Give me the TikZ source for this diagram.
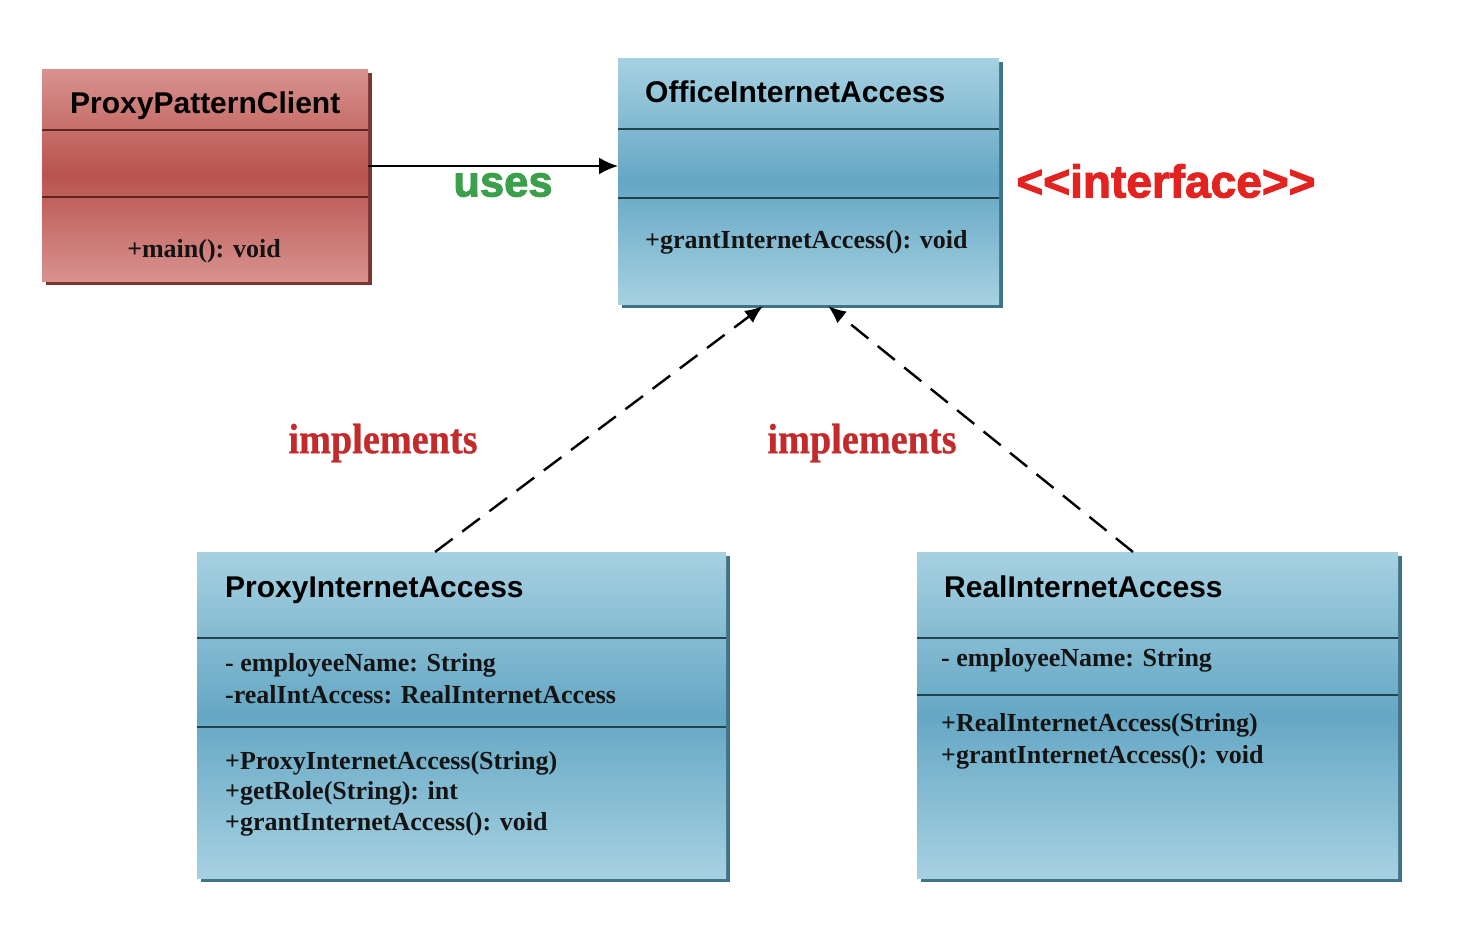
\documentclass[tikz,border=0pt]{standalone}
\usepackage{fontspec}
\setmainfont{Liberation Serif}
\newfontfamily\sansb{Liberation Sans}[Ligatures=NoCommon]
\newfontfamily\heavysans{Liberation Sans Bold}[Ligatures=NoCommon, FakeBold=2.2]
\newfontfamily\heavyserif{Liberation Serif Bold}[FakeStretch=0.9, FakeBold=0.6]
\usetikzlibrary{arrows.meta,shadows,calc}
\definecolor{bltop}{HTML}{A6D1E1}
\definecolor{blmid}{HTML}{65A7C4}
\definecolor{blshadow}{HTML}{3F7389}
\definecolor{rdtop}{HTML}{D8928F}
\definecolor{rdmid}{HTML}{B9534D}
\definecolor{rdshadow}{HTML}{7A3431}
\definecolor{divblue}{HTML}{22424E}
\definecolor{divred}{HTML}{5E2522}
\definecolor{usesgreen}{HTML}{3C9F4C}
\definecolor{ifred}{HTML}{E3231F}
\definecolor{implred}{HTML}{C32A2B}
\definecolor{txt}{HTML}{141414}
\tikzset{
  bluebox/.style={rectangle, anchor=north west, inner sep=0pt, outer sep=0pt,
    top color=bltop, bottom color=bltop, middle color=blmid,
    drop shadow={shadow xshift=4pt, shadow yshift=-4pt, fill=blshadow, opacity=1}},
  redbox/.style={rectangle, anchor=north west, inner sep=0pt, outer sep=0pt,
    top color=rdtop, bottom color=rdtop, middle color=rdmid,
    drop shadow={shadow xshift=4pt, shadow yshift=-4pt, fill=rdshadow, opacity=1}},
  divb/.style={draw=divblue, line width=2pt},
  divr/.style={draw=divred, line width=2pt},
  title/.style={anchor=base west, inner sep=0pt, font=\sansb\bfseries\fontsize{30}{34}\selectfont, text=black},
  member/.style={anchor=base west, inner sep=0pt, font=\bfseries\fontsize{26}{30}\selectfont, text=txt},
  realize/.style={draw=black, line width=2.4pt, dash pattern=on 22pt off 12pt, -{Latex[length=18pt,width=15pt]}},
  assoc/.style={draw=black, line width=2pt, -{Latex[length=19pt,width=17pt]}},
  impl/.style={text=implred, font=\heavyserif\fontsize{42.5}{46}\selectfont, inner sep=0pt}
}
\begin{document}
\begin{tikzpicture}[x=1pt,y=-1pt]
\useasboundingbox[fill=white] (0,0) rectangle (1470,926);

% boxes
\node[redbox, minimum width=326pt, minimum height=212pt] (client) at (42,69) {};
\node[bluebox, minimum width=381pt, minimum height=246pt] (office) at (618,58) {};
\node[bluebox, minimum width=529pt, minimum height=326pt] (proxy) at (197,552) {};
\node[bluebox, minimum width=481pt, minimum height=326pt] (real) at (917,552) {};

% dividers
\draw[divr] (client.west |- 0,130) -- (client.east |- 0,130);
\draw[divr] (client.west |- 0,197) -- (client.east |- 0,197);
\draw[divb] (office.west |- 0,129) -- (office.east |- 0,129);
\draw[divb] (office.west |- 0,198) -- (office.east |- 0,198);
\draw[divb] (proxy.west |- 0,638) -- (proxy.east |- 0,638);
\draw[divb] (proxy.west |- 0,727) -- (proxy.east |- 0,727);
\draw[divb] (real.west |- 0,638) -- (real.east |- 0,638);
\draw[divb] (real.west |- 0,695) -- (real.east |- 0,695);

% client text
\node[title] (clientT) at (70,113) {ProxyPatternClient};
\node[member, anchor=base] (clientM) at (204,257) {+main(): void};

% office text
\node[title] (officeT) at (645,102) {OfficeInternetAccess};
\node[member] (officeM) at (645,248) {+grantInternetAccess(): void};

% proxy text
\node[title] (proxyT) at (225,597) {ProxyInternetAccess};
\node[member] (proxyA1) at (225,671) {- employeeName: String};
\node[member] (proxyA2) at (225,703) {-realIntAccess: RealInternetAccess};
\node[member] (proxyM1) at (225,769) {+ProxyInternetAccess(String)};
\node[member] (proxyM2) at (225,799) {+getRole(String): int};
\node[member] (proxyM3) at (225,830) {+grantInternetAccess(): void};

% real text
\node[title] (realT) at (944,597) {RealInternetAccess};
\node[member] (realA1) at (941,666) {- employeeName: String};
\node[member] (realM1) at (941,731) {+RealInternetAccess(String)};
\node[member] (realM2) at (941,763) {+grantInternetAccess(): void};

% connectors
\draw[assoc] (client.east |- 0,166) -- (office.west |- 0,166);
\draw[realize] ([xshift=238pt]proxy.north west) -- ([xshift=145pt,yshift=-2pt]office.south west);
\draw[realize] ([xshift=216pt]real.north west) -- ([xshift=210pt,yshift=-2pt]office.south west);

% labels
\node[text=usesgreen, font=\heavysans\fontsize{43.5}{47}\selectfont, inner sep=0pt] (uses) at (503,185) {uses};
\node[text=ifred, font=\heavysans\fontsize{46}{50}\selectfont, inner sep=0pt] (iface) at (1166,181) {<\kern0pt<interface>\kern0pt>};
\node[impl] (impl1) at (383,443) {implements};
\node[impl] (impl2) at (862,443) {implements};
\end{tikzpicture}
\end{document}
